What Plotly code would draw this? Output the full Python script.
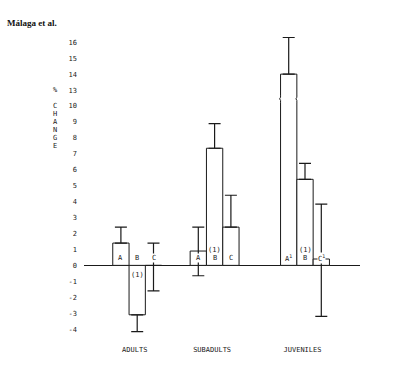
import plotly.graph_objects as go

# ---------------- data ----------------
groups = ["ADULTS", "SUBADULTS", "JUVENILES"]
a_values = [1.4, 0.9, 14.0]
b_values = [-3.1, 7.35, 5.4]
c_values = [0.0, 2.4, 0.4]
a_err_up = [1.0, 1.5, 2.3]
a_err_down = [0.0, 1.55, 0.0]
b_err_up = [0.0, 1.55, 1.0]
b_err_down = [1.05, 0.0, 0.0]
c_err_up = [1.4, 2.0, 3.45]
c_err_down = [1.6, 0.0, 3.6]
bar_letters = [["A", "B", "C"], ["A", "B", "C"], ["A<sup>1</sup>", "B", "C<sup>1</sup>"]]
notes = ["(1)", "(1)", "(1)"]          # note on the B bar of each group
tick_values = [-4, -3, -2, -1, 0, 1, 2, 3, 4, 5, 6, 7, 8, 9, 10, 13, 14, 15, 16]

# ---------------- layout constants ----------------
BREAK_LO, BREAK_HI = 10, 13          # axis break: 11 and 12 are skipped
SHIFT = BREAK_HI - BREAK_LO - 1


def disp(v):
    return v if v <= BREAK_LO else v - SHIFT


GROUP_CENTERS = [137.2, 214.6, 305.0]
BAR_W = 16.3
FONT_MONO = "DejaVu Sans Mono"
INK = "#1a1a1a"

fig = go.Figure()
series = [(a_values, a_err_up, a_err_down, -1),
          (b_values, b_err_up, b_err_down, 0),
          (c_values, c_err_up, c_err_down, 1)]
for vals, eu, ed, off in series:
    xs = [c + off * BAR_W for c in GROUP_CENTERS]
    fig.add_trace(go.Bar(
        x=xs, y=[disp(v) for v in vals], width=BAR_W,
        marker=dict(color="white", line=dict(color=INK, width=1)),
        error_y=dict(type="data", symmetric=False, array=eu, arrayminus=ed,
                     color=INK, thickness=1.2, width=6),
        showlegend=False, hoverinfo="skip"))

# letters inside bars
annotations = []
for gi, c in enumerate(GROUP_CENTERS):
    for k, off in enumerate([-1, 0, 1]):
        annotations.append(dict(x=c + off * BAR_W, y=0.45, xref="x", yref="y",
                                text=bar_letters[gi][k], showarrow=False,
                                bgcolor="white", borderpad=0,
                                font=dict(family=FONT_MONO, size=7, color=INK)))
    note_y = -0.6 if b_values[gi] < 0 else 0.95
    annotations.append(dict(x=c, y=note_y, xref="x", yref="y", text=notes[gi],
                            showarrow=False,
                            font=dict(family=FONT_MONO, size=7, color=INK)))

# y axis title: "%" and vertical "CHANGE"
LAB_X = -0.118
annotations.append(dict(x=LAB_X, y=disp(13), xref="paper", yref="y", text="%",
                        showarrow=False, font=dict(family=FONT_MONO, size=7, color=INK)))
for i, ch in enumerate("CHANGE"):
    annotations.append(dict(x=LAB_X, y=10 - 0.5 * i, xref="paper", yref="y", text=ch,
                            showarrow=False, font=dict(family=FONT_MONO, size=7, color=INK)))

# axis-break marks on the tall bar (juveniles A)
shapes = []
xa = GROUP_CENTERS[2] - BAR_W
yb = (BREAK_LO + disp(BREAK_HI)) / 2 - 0.05
for side in (xa - BAR_W / 2, xa + BAR_W / 2):
    shapes.append(dict(type="rect", xref="x", yref="y", x0=side - 1.5, x1=side + 1.5,
                       y0=yb - 0.22, y1=yb + 0.22, fillcolor="white",
                       line=dict(width=0), layer="above"))
    shapes.append(dict(type="path", xref="x", yref="y",
                       path=f"M {side},{yb + 0.23} L {side},{yb + 0.1} "
                            f"Q {side - 1.8},{yb} {side},{yb - 0.1} L {side},{yb - 0.23}",
                       line=dict(color=INK, width=1), layer="above"))

tick_disp = [disp(v) for v in tick_values]

fig.update_layout(
    width=400, height=366,
    margin=dict(l=84, r=40, t=30, b=24),
    paper_bgcolor="white", plot_bgcolor="white",
    barmode="overlay",
    title=dict(text="<b>Málaga et al.</b>", x=7 / 400, xanchor="left",
               y=1 - 23 / 366, yanchor="middle", yref="container",
               font=dict(family="Liberation Serif", size=9, color="#111")),
    xaxis=dict(range=[84, 360], showgrid=False, zeroline=False, showline=False,
               tickmode="array", tickvals=[c - 2.5 for c in GROUP_CENTERS],
               ticktext=groups, ticks="", ticklabelstandoff=8,
               tickfont=dict(family=FONT_MONO, size=7, color=INK)),
    yaxis=dict(range=[(270 - 342) / 16.25, (270 - 30) / 16.25], showgrid=False,
               zeroline=True, zerolinecolor=INK, zerolinewidth=1, showline=False,
               tickmode="array", tickvals=tick_disp,
               ticktext=[str(v) for v in tick_values], ticks="",
               ticklabelstandoff=6,
               tickfont=dict(family=FONT_MONO, size=7, color=INK)),
    annotations=annotations, shapes=shapes,
)

fig.write_html("out.html", config={"displayModeBar": False},
               post_script="document.body.style.margin='0';")
